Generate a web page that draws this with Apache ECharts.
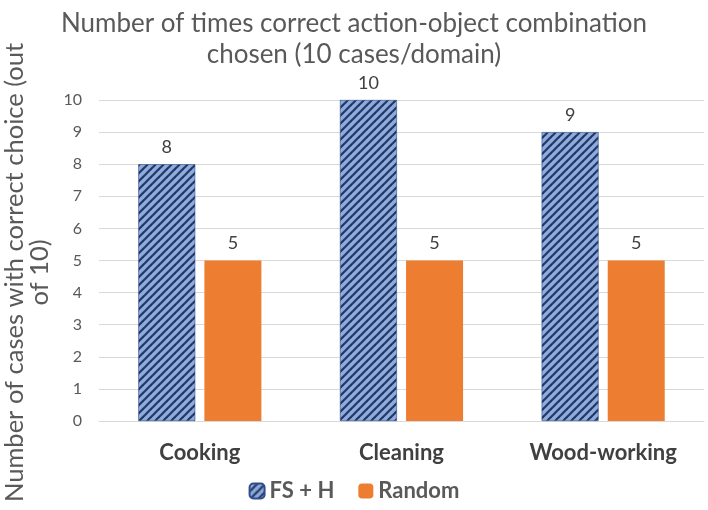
<!DOCTYPE html>
<html><head><meta charset="utf-8">
<script src="https://cdn.jsdelivr.net/npm/echarts@6/dist/echarts.min.js"></script>
<style>html,body{margin:0;padding:0;background:#fff}#c{width:708px;height:510px}</style>
</head><body><div id="c"></div>
<script>
const categories = ['Cooking', 'Cleaning', 'Wood-working'];
const fsH = [8, 10, 9];
const random = [5, 5, 5];
const seriesNames = ['FS + H', 'Random'];
const yTicks = [0, 10, 1];

function hatch() {
  const s = 8;
  const c = document.createElement('canvas');
  c.width = s; c.height = s;
  const g = c.getContext('2d');
  g.fillStyle = '#8faadc';
  g.fillRect(0, 0, s, s);
  g.strokeStyle = '#203864';
  g.lineWidth = 2.2;
  for (let k = -1; k <= 1; k++) {
    g.beginPath();
    g.moveTo(k * s - 1, s + 1);
    g.lineTo(k * s + s + 1, -1);
    g.stroke();
  }
  return { image: c, repeat: 'repeat' };
}

const font = 'Lato';
const chart = echarts.init(document.getElementById('c'));
chart.setOption({
  animation: false,
  title: {
    text: 'Number of times correct action-object combination\nchosen (10 cases/domain)',
    left: 'center', top: 3,
    textStyle: { fontFamily: font, fontSize: 26, fontWeight: 'normal', color: '#595959', lineHeight: 31 }
  },
  legend: {
    bottom: 3, left: 'center',
    itemWidth: 15, itemHeight: 15, itemGap: 24,
    textStyle: { fontFamily: font, fontSize: 22, fontWeight: 'bold', color: '#595959' },
    data: seriesNames
  },
  grid: { left: 99, right: 4, top: 100, bottom: 89, outerBoundsMode: 'none', containLabel: false },
  xAxis: {
    type: 'category', data: categories,
    axisLine: { show: true, lineStyle: { color: '#d9d9d9' } },
    axisTick: { show: false },
    axisLabel: { fontFamily: font, fontSize: 22, fontWeight: 'bold', color: '#404040', margin: 21 }
  },
  yAxis: {
    type: 'value', min: yTicks[0], max: yTicks[1], interval: yTicks[2],
    name: 'Number of cases with correct choice (out\nof 10)',
    nameLocation: 'middle', nameRotate: 90, nameGap: 43,
    nameTextStyle: { fontFamily: font, fontSize: 25.5, color: '#595959', lineHeight: 25, padding: [0, 24, 0, 0] },
    axisLine: { show: false }, axisTick: { show: false },
    axisLabel: { fontFamily: font, fontSize: 16, color: '#595959', margin: 17 },
    splitLine: { lineStyle: { color: '#d9d9d9' } }
  },
  series: [
    {
      name: seriesNames[0], type: 'bar', data: fsH,
      barWidth: 57, barGap: '16%',
      itemStyle: { color: hatch(), borderColor: '#2f4f8a', borderWidth: 0.6 },
      label: { show: true, position: 'top', distance: 8, fontFamily: font, fontSize: 18, color: '#404040' }
    },
    {
      name: seriesNames[1], type: 'bar', data: random,
      barWidth: 57, barGap: '16%',
      itemStyle: { color: '#ed7d31' },
      label: { show: true, position: 'top', distance: 8, fontFamily: font, fontSize: 18, color: '#404040' }
    }
  ]
});
</script></body></html>
